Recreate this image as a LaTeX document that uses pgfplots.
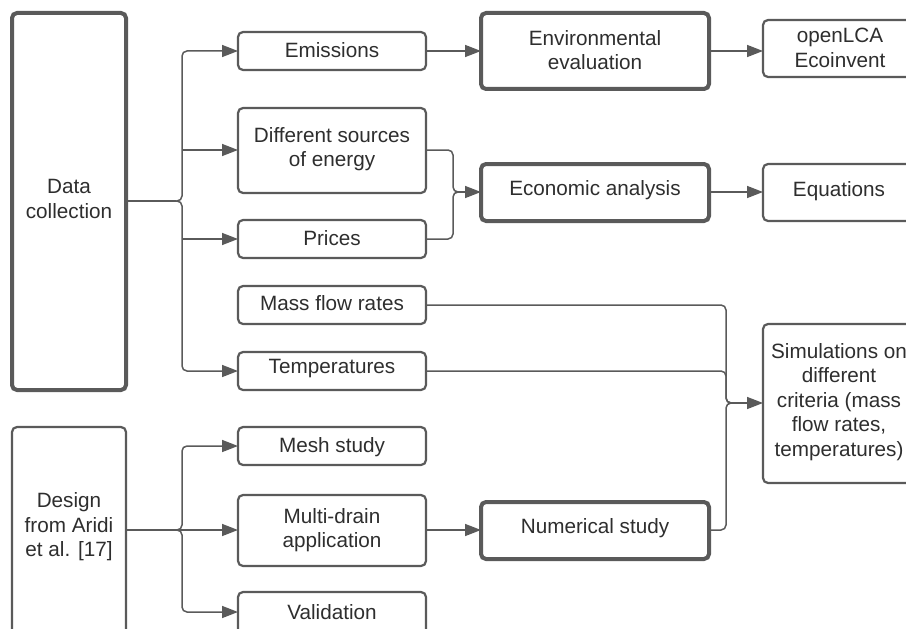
\documentclass[border=0pt]{standalone}
\usepackage{pgfplots}
\pgfplotsset{compat=1.18}
\usepackage{fontspec}
\setmainfont{Liberation Sans}
\usetikzlibrary{arrows.meta}
\definecolor{ln}{HTML}{5A5A5A}
\definecolor{tx}{HTML}{2E2E2E}
\begin{document}
\begin{tikzpicture}
\tikzset{
  box/.style={draw=ln, line width=2.2bp, rounded corners=5bp, fill=white},
  tbox/.style={box, line width=4bp},
  lbl/.style={align=center, text=tx, inner sep=0pt, font=\fontsize{20.7bp}{24.5bp}\selectfont},
  tip/.tip={Triangle[length=16bp,width=12bp]},
}
\pgfplotsset{
  conn/.style={color=ln, line width=1.5bp, rounded corners=5bp, no markers},
  arr/.style={conn, -tip},
}
\begin{axis}[name=ax, width=906bp, height=629bp, scale only axis,
  xmin=0, xmax=906, ymin=0, ymax=629, y dir=reverse, hide axis, clip=true]

% ---- connectors ----
% Data collection bracket
\addplot[conn] coordinates {(126,201) (176,201)};
\addplot[arr] coordinates {(176,201) (182,201) (182,51) (238,51)};
\addplot[arr] coordinates {(176,201) (182,201) (182,371) (238,371)};
\addplot[arr] coordinates {(182,150) (238,150)};
\addplot[arr] coordinates {(182,239) (238,239)};
% Design bracket
\addplot[arr] coordinates {(126,530) (238,530)};
\addplot[arr] coordinates {(176,530) (182,530) (182,446) (238,446)};
\addplot[arr] coordinates {(176,530) (182,530) (182,612) (238,612)};
% Environmental chain
\addplot[arr] coordinates {(426,51) (481,51)};
\addplot[arr] coordinates {(709,51) (763,51)};
% Economic chain
\addplot[conn] coordinates {(426,150) (453,150) (453,192) (460,192)};
\addplot[conn] coordinates {(426,239) (453,239) (453,192) (460,192)};
\addplot[arr] coordinates {(455,192) (481,192)};
\addplot[arr] coordinates {(709,192) (763,192)};
% Simulations merge
\addplot[conn] coordinates {(426,305) (726,305) (726,403) (733,403)};
\addplot[conn] coordinates {(426,371) (726,371) (726,403) (733,403)};
\addplot[conn] coordinates {(709,530) (726,530) (726,403) (733,403)};
\addplot[arr] coordinates {(728,403) (763,403)};
\addplot[arr] coordinates {(426,530) (481,530)};

% ---- boxes ----
\draw[tbox] (12,13) rectangle (126,390);
\draw[box] (12,427) rectangle (126,640);
\draw[box] (238,32) rectangle (426,70);
\draw[box] (238,108) rectangle (426,193);
\draw[box] (238,220) rectangle (426,258);
\draw[box] (238,286) rectangle (426,324);
\draw[box] (238,352) rectangle (426,390);
\draw[box] (238,427) rectangle (426,465);
\draw[box] (238,495) rectangle (426,566);
\draw[box] (238,592) rectangle (426,650);
\draw[tbox] (481,13) rectangle (709,89);
\draw[tbox] (481,164) rectangle (709,221);
\draw[tbox] (481,502) rectangle (709,559);
\draw[box] (763,20) rectangle (918,77);
\draw[box] (763,164) rectangle (918,221);
\draw[box] (763,324) rectangle (918,483);

% ---- labels ----
\node[lbl] at (69,199) {Data\\collection};
\node[lbl] at (69,527) {Design\\from Aridi\\et al. [17]};
\node[lbl] at (332,50) {Emissions};
\node[lbl] at (332,149) {Different sources\\of energy};
\node[lbl] at (332,238) {Prices};
\node[lbl] at (332,303) {Mass flow rates};
\node[lbl] at (332,369) {Temperatures};
\node[lbl] at (332,447) {Mesh study};
\node[lbl] at (332,530) {Multi-drain\\application};
\node[lbl] at (332,612) {Validation};
\node[lbl] at (595,50) {Environmental\\evaluation};
\node[lbl] at (595,190) {Economic analysis};
\node[lbl] at (595,528) {Numerical study};
\node[lbl] at (840,48) {openLCA\\Ecoinvent};
\node[lbl] at (839,191) {Equations};
\node[lbl] at (839,402) {Simulations on\\different\\criteria (mass\\flow rates,\\temperatures)};
\end{axis}
\pgfresetboundingbox
\path (ax.south west) rectangle (ax.north east);
\end{tikzpicture}
\end{document}
